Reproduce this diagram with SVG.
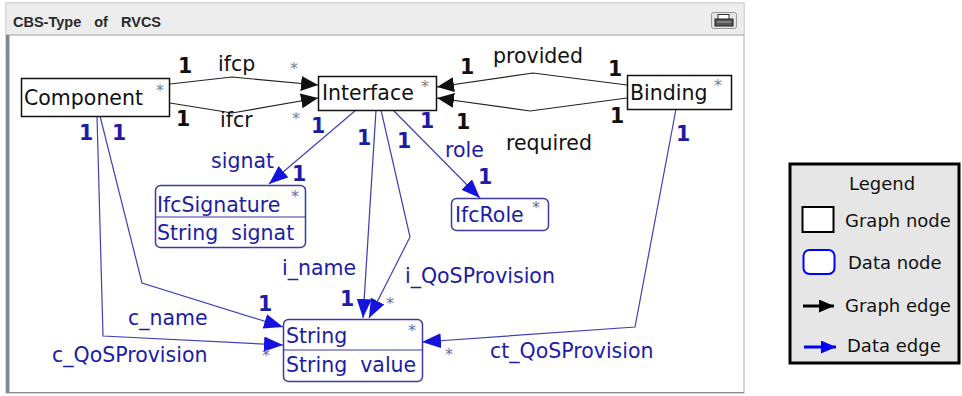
<svg xmlns="http://www.w3.org/2000/svg" width="962" height="396" viewBox="0 0 962 396">
<style>
text{font-family:"DejaVu Sans","Noto Sans",sans-serif;white-space:pre}
.nm{font-size:20.5px;fill:#111}
.dn{font-size:20.5px;fill:#1c1ca6}
.lb{font-size:20.5px;fill:#111}
.dl{font-size:20.5px;fill:#1c1ca6}
.m1{font-size:20.5px;font-weight:bold;fill:#111}
.d1{font-size:20.5px;font-weight:bold;fill:#1c1ca6}
.st{font-size:16px;fill:#808080;text-anchor:middle}
.gbox{fill:#fff;stroke:#111;stroke-width:1.5}
.dbox{fill:#fff;stroke:#3a3aa8;stroke-width:1.5}
.ge{fill:none;stroke:#222;stroke-width:1.2;marker-end:url(#ga)}
.de{fill:none;stroke:#4040b8;stroke-width:1.2;marker-end:url(#da)}
.lg{font-size:18px;fill:#111}
</style>
<defs>
<marker id="ga" markerUnits="userSpaceOnUse" markerWidth="18" markerHeight="16" refX="17" refY="7.5" orient="auto">
<path d="M0,0 L17,7.5 L0,15 z" fill="#111"/>
</marker>
<marker id="da" markerUnits="userSpaceOnUse" markerWidth="20" markerHeight="16" refX="19" refY="7.5" orient="auto">
<path d="M0,0 L19,7.5 L0,15 z" fill="#1414dc"/>
</marker>
<marker id="lga" markerUnits="userSpaceOnUse" markerWidth="16" markerHeight="14" refX="15" refY="6.5" orient="auto">
<path d="M0,0 L15,6.5 L0,13 z" fill="#000"/>
</marker>
<marker id="lda" markerUnits="userSpaceOnUse" markerWidth="16" markerHeight="14" refX="15" refY="6.5" orient="auto">
<path d="M0,0 L15,6.5 L0,13 z" fill="#0000ff"/>
</marker>
</defs>

<g id="frame">
<rect x="6" y="3" width="738" height="390" fill="#fff" stroke="#b0b0b0" stroke-width="1"/>
<rect x="6.5" y="3.5" width="737" height="31" fill="#ededed"/>
<line x1="6" y1="35" x2="744" y2="35" stroke="#9a9a9a" stroke-width="1.2"/>
<rect x="6" y="35" width="3.5" height="358" fill="#7e8a96"/>
<line x1="6" y1="392.5" x2="744" y2="392.5" stroke="#8a8a8a" stroke-width="1.2"/>
<text x="13" y="27" style="font-size:14.5px;fill:#2a2a2a;font-weight:bold;font-family:'Liberation Sans',sans-serif;word-spacing:2.5px">CBS-Type  of  RVCS</text>
<g id="printer">
<rect x="711.5" y="12.5" width="25" height="16" rx="2" fill="#e4e4e4" stroke="#9a9a9a"/>
<rect x="718" y="14.5" width="11" height="5" fill="#fff" stroke="#333" stroke-width="1"/>
<rect x="715" y="19" width="18" height="7" fill="#555" stroke="#222" stroke-width="1"/>
<line x1="717" y1="22" x2="731" y2="22" stroke="#aaa" stroke-width="1"/>
</g>
</g>

<g id="connectors">
<path class="ge" d="M170,84 L232,77 L318,85"/>
<path class="ge" d="M170,103 L232,113 L318,98"/>
<path class="ge" d="M627,85 L533,73 L437,87"/>
<path class="ge" d="M627,98 L530,111 L437,98"/>
<path class="de" d="M356,110 L269,184"/>
<path class="de" d="M393,110 L480,198"/>
<path class="de" d="M376,110 L363,318"/>
<path class="de" d="M381,110 L410,237 L369,318"/>
<path class="de" d="M100,116 L142,283 L283,327"/>
<path class="de" d="M97,116 L103,336 L283,345"/>
<path class="de" d="M676,109 L635,327 L422,342"/>

<text class="m1" x="178" y="73">1</text>
<text class="lb" x="218" y="71">ifcp</text>
<text class="st" x="294" y="74">*</text>
<text class="m1" x="176" y="126">1</text>
<text class="lb" x="220" y="127">ifcr</text>
<text class="st" x="296" y="124">*</text>

<text class="m1" x="460" y="74">1</text>
<text class="lb" x="493" y="63">provided</text>
<text class="m1" x="608" y="76">1</text>
<text class="m1" x="456" y="129">1</text>
<text class="lb" x="506" y="150">required</text>
<text class="m1" x="610" y="123">1</text>

<text class="d1" x="79" y="140">1</text>
<text class="d1" x="112" y="140">1</text>
<text class="d1" x="311" y="133">1</text>
<text class="dl" x="211" y="168">signat</text>
<text class="d1" x="292" y="181">1</text>
<text class="d1" x="420" y="128">1</text>
<text class="dl" x="445" y="157">role</text>
<text class="d1" x="478" y="184">1</text>
<text class="d1" x="357" y="145">1</text>
<text class="d1" x="397" y="148">1</text>
<text class="dl" x="282" y="275">i_name</text>
<text class="d1" x="340" y="306">1</text>
<text class="dl" x="405" y="283">i_QoSProvision</text>
<text class="st" x="390" y="309" style="fill:#6a6ab0">*</text>
<text class="dl" x="128" y="325">c_name</text>
<text class="d1" x="258" y="311">1</text>
<text class="dl" x="52" y="362">c_QoSProvision</text>
<text class="st" x="266" y="361" style="fill:#6a6ab0">*</text>
<text class="d1" x="676" y="141">1</text>
<text class="dl" x="490" y="358">ct_QoSProvision</text>
<text class="st" x="449" y="360" style="fill:#6a6ab0">*</text>
</g>

<g id="Component">
<rect class="gbox" x="21.5" y="78.5" width="148" height="38"/>
<text class="nm" x="24" y="105">Component</text>
<text class="st" x="160" y="96">*</text>
</g>
<g id="Interface">
<rect class="gbox" x="318.5" y="76.5" width="118" height="34"/>
<text class="nm" x="322" y="100">Interface</text>
<text class="st" x="425" y="92">*</text>
</g>
<g id="Binding">
<rect class="gbox" x="627.5" y="75.5" width="104" height="34"/>
<text class="nm" x="630" y="100">Binding</text>
<text class="st" x="718" y="91">*</text>
</g>
<g id="IfcSignature">
<rect class="dbox" x="155.5" y="185.5" width="150" height="62" rx="5"/>
<line x1="156" y1="217" x2="305" y2="217" stroke="#3a3aa8" stroke-width="1.2"/>
<text class="dn" x="157" y="212">IfcSignature</text>
<text class="dn" x="157" y="240">String  signat</text>
<text class="st" x="295" y="202" style="fill:#6a6ab0">*</text>
</g>
<g id="IfcRole">
<rect class="dbox" x="451.5" y="198.5" width="97" height="32" rx="5"/>
<text class="dn" x="455" y="222">IfcRole</text>
<text class="st" x="536" y="213" style="fill:#6a6ab0">*</text>
</g>
<g id="String">
<rect class="dbox" x="283.5" y="319.5" width="139" height="62" rx="5"/>
<line x1="284" y1="350" x2="422" y2="350" stroke="#3a3aa8" stroke-width="1.2"/>
<text class="dn" x="286" y="343">String</text>
<text class="dn" x="286" y="372">String  value</text>
<text class="st" x="412" y="336" style="fill:#6a6ab0">*</text>
</g>

<g id="legend">
<rect x="790" y="164" width="169" height="199" fill="#e6e6e6" stroke="#000" stroke-width="3"/>
<text class="lg" x="882" y="190" text-anchor="middle">Legend</text>
<rect x="802.5" y="207" width="31" height="25" fill="#fff" stroke="#000" stroke-width="2"/>
<text class="lg" x="845" y="227">Graph node</text>
<rect x="803.5" y="250" width="31" height="24" rx="6" fill="#fff" stroke="#0000ff" stroke-width="2"/>
<text class="lg" x="848" y="269">Data node</text>
<line x1="803" y1="306" x2="834" y2="306" stroke="#000" stroke-width="3" marker-end="url(#lga)"/>
<text class="lg" x="845" y="312">Graph edge</text>
<line x1="804" y1="347" x2="836" y2="347" stroke="#0000ff" stroke-width="3" marker-end="url(#lda)"/>
<text class="lg" x="847" y="352">Data edge</text>
</g>
</svg>
